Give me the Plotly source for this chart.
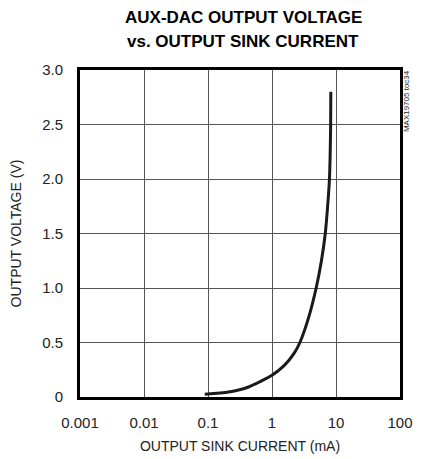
import plotly.graph_objects as go

# curve (mA, V)
current_ma = [0.089, 0.21, 0.43, 1.0, 1.56, 2.21, 2.73, 3.74, 4.9, 5.92, 6.8, 7.4, 7.9, 8.25, 8.3]
voltage_v = [0.025, 0.046, 0.092, 0.2, 0.29, 0.40, 0.5, 0.73, 1.0, 1.25, 1.5, 1.75, 2.0, 2.5, 2.8]

x_ticks = [0.001, 0.01, 0.1, 1, 10, 100]
x_labels = ["0.001", "0.01", "0.1", "1", "10", "100"]
y_ticks = [0, 0.5, 1.0, 1.5, 2.0, 2.5, 3.0]
y_labels = ["0", "0.5", "1.0", "1.5", "2.0", "2.5", "3.0"]

FONT = "Liberation Sans, Arial, sans-serif"

fig = go.Figure()
fig.add_trace(go.Scatter(x=current_ma, y=voltage_v, mode='lines',
                         line=dict(color='#1a1a1a', width=3, shape='spline', smoothing=0.6),
                         showlegend=False, hoverinfo='skip'))

# page body has an 8px margin, so the figure is 8px smaller than the window;
# the right edge of the window is cut, so the frame sits a little left of the original
fig.update_layout(
    width=414, height=451,
    margin=dict(l=72, r=22, t=62, b=62, autoexpand=False),
    paper_bgcolor='white', plot_bgcolor='white',
    font=dict(family=FONT, size=15, color='#222'),
)
fig.update_xaxes(type='log', range=[-3, 2], tickvals=x_ticks, ticktext=x_labels,
                 showline=True, linecolor='#000', linewidth=3, mirror=True,
                 showgrid=True, gridcolor='#555', gridwidth=1, ticks='', zeroline=False,
                 ticklabelstandoff=10,
                 title=dict(text="OUTPUT SINK CURRENT (mA)", standoff=12, font=dict(size=14)))
fig.update_yaxes(range=[0, 3], tickvals=y_ticks, ticktext=y_labels,
                 showline=True, linecolor='#000', linewidth=3, mirror=True,
                 showgrid=True, gridcolor='#555', gridwidth=1, ticks='', zeroline=False,
                 ticklabelstandoff=11,
                 title=dict(text="OUTPUT VOLTAGE (V)", standoff=22, font=dict(size=14)))

# two-line bold title, centred over the plot area
fig.add_annotation(text="<b>AUX-DAC OUTPUT VOLTAGE</b>", xref='paper', yref='paper',
                   x=0.51, y=1.162, xanchor='center', yanchor='middle', showarrow=False,
                   font=dict(family=FONT, size=17, color='#000'))
fig.add_annotation(text="<b>vs. OUTPUT SINK CURRENT</b>", xref='paper', yref='paper',
                   x=0.51, y=1.086, xanchor='center', yanchor='middle', showarrow=False,
                   font=dict(family=FONT, size=17, color='#000'))

fig.add_annotation(text="MAX19705 toc34", xref='paper', yref='paper', x=1.019, y=1.006,
                   xanchor='center', yanchor='top', textangle=-90, showarrow=False,
                   font=dict(family=FONT, size=8, color='#222'))

fig.write_html("out.html")
